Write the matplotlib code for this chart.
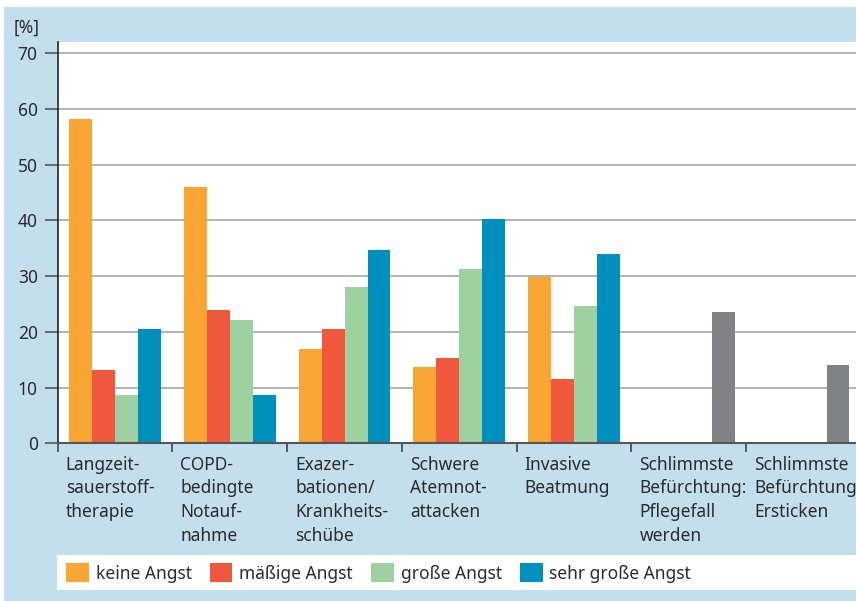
import numpy as np
import matplotlib
matplotlib.use('Agg')
import matplotlib.pyplot as plt
from matplotlib.patches import Rectangle, Patch
from matplotlib.transforms import ScaledTranslation

plt.rcParams['font.family'] = ['Noto Sans', 'DejaVu Sans']

categories = [
    'Langzeit-\nsauerstoff-\ntherapie',
    'COPD-\nbedingte\nNotauf-\nnahme',
    'Exazer-\nbationen/\nKrankheits-\nschübe',
    'Schwere\nAtemnot-\nattacken',
    'Invasive\nBeatmung',
    'Schlimmste\nBefürchtung:\nPflegefall\nwerden',
    'Schlimmste\nBefürchtung:\nErsticken',
]
keine = [58.2, 46.0, 16.9, 13.7, 29.9]
maessig = [13.2, 23.9, 20.5, 15.3, 11.5]
gross = [8.7, 22.1, 28.1, 31.3, 24.6]
sehr_gross = [20.5, 8.7, 34.7, 40.3, 34.0]
befuerchtung = [23.6, 14.1]

series = [
    ('keine Angst', keine, '#f9a533'),
    ('mäßige Angst', maessig, '#f0583e'),
    ('große Angst', gross, '#9dd19f'),
    ('sehr große Angst', sehr_gross, '#0090bd'),
]
gray = '#808285'
bg = '#c3dfee'
txt = '#2b2b2b'

W, H = 856, 601
fig = plt.figure(figsize=(W / 100, H / 100), dpi=100)
fig.patch.set_facecolor('white')
fig.add_artist(Rectangle((4 / W, 0), 1, 1 - 7 / H, transform=fig.transFigure,
                         facecolor=bg, edgecolor='none', zorder=0))
fig.add_artist(Rectangle((57 / W, (H - 590) / H), 1, 35 / H, transform=fig.transFigure,
                         facecolor='white', edgecolor='none', zorder=0))

left, right, top, bottom = 57.7, 856, 41.7, 443.3
ax = fig.add_axes([left / W, (H - bottom) / H, (right - left) / W, (bottom - top) / H])
ax.set_facecolor('white')

x = np.arange(len(categories))
w = 0.2
for i, (name, vals, col) in enumerate(series):
    ax.bar(x[:len(vals)] + (i - 1.5) * w, vals, width=w, color=col, zorder=3)
ax.bar(x[5:] + 1.5 * w, befuerchtung, width=w, color=gray, zorder=3)

ax.set_ylim(0, 72.1)
ax.set_xlim(-0.5, 6.457)
ax.set_yticks(range(0, 71, 10))
ax.yaxis.grid(True, color='#a6a6a6', lw=1.2, zorder=1)
ax.tick_params(axis='y', length=9.4, width=1.2, color='#555555', pad=5,
               labelsize=12.5, labelcolor=txt)

ax.set_xticks(x - 0.5)
ax.set_xticklabels(categories)
ax.tick_params(axis='x', length=6.5, width=1.2, color='#444444', pad=2.5,
               labelsize=12.5, labelcolor=txt)
off = ScaledTranslation(8 / 100, 0, fig.dpi_scale_trans)
for lab in ax.get_xticklabels():
    lab.set_horizontalalignment('left')
    lab.set_linespacing(1.4)
    lab.set_transform(lab.get_transform() + off)

for s in ['top', 'right']:
    ax.spines[s].set_visible(False)
ax.spines['left'].set_color('#222222')
ax.spines['left'].set_linewidth(1.2)
ax.spines['bottom'].set_color('#555555')
ax.spines['bottom'].set_linewidth(1.5)
ax.spines['bottom'].set_zorder(4)

fig.text(14 / W, 1 - 28 / H, '[%]', fontsize=12.5, color=txt, va='center', ha='left')

handles = [Patch(facecolor=c, edgecolor='none', label=n) for n, _, c in series]
fig.legend(handles=handles, loc='center left', bbox_to_anchor=(66 / W, 1 - 573 / H),
           ncol=4, frameon=False, fontsize=12.5, handlelength=1.3, handleheight=1.3,
           handletextpad=0.4, columnspacing=1.05, labelcolor=txt, borderaxespad=0,
           borderpad=0)

fig.savefig('out.png', dpi=100)
